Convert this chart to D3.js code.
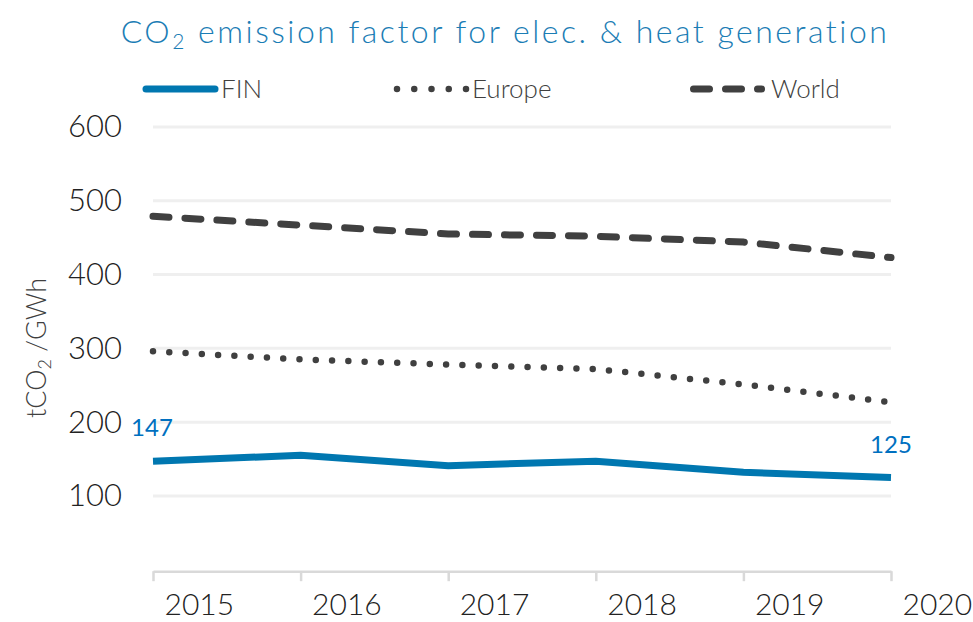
<!DOCTYPE html>
<html>
<head>
<meta charset="utf-8">
<script src="https://cdn.jsdelivr.net/npm/d3@7"></script>
<style>
  body { margin: 0; background: #fff; }
  text { font-family: Lato, "Noto Sans", sans-serif; }
</style>
</head>
<body>
<div class="container"></div>
<script>
const years = [2015, 2016, 2017, 2018, 2019, 2020];
const fin = [147, 155, 141, 147, 132, 125];
const europe = [296, 285, 278, 272, 251, 227];
const world = [479, 467, 455, 452, 444, 423];
const yTicks = [100, 200, 300, 400, 500, 600];

const width = 973;
const height = 622;
const margin = { top: 127, right: 82, bottom: 52, left: 153 };

let svg = d3.select(".container").append("svg")
  .attr("width", width).attr("height", height);

let xScale = d3.scalePoint(years, [margin.left, width - margin.right]);
let yScale = d3.scaleLinear([0, 600], [height - margin.bottom - 0.3, margin.top]);

// title
let title = svg.append("text")
  .attr("x", 505).attr("y", 43)
  .attr("text-anchor", "middle")
  .attr("fill", "#1b7db5")
  .attr("font-size", 32)
  .attr("font-weight", 300)
  .attr("letter-spacing", 2.5);
title.append("tspan").text("CO");
title.append("tspan").attr("font-size", 21).attr("dy", 6).text("2");
title.append("tspan").attr("dy", -6).text(" emission factor for elec. & heat generation");

// gridlines
svg.append("g").selectAll("line")
  .data(yTicks).enter().append("line")
  .attr("x1", margin.left).attr("x2", width - margin.right)
  .attr("y1", d => yScale(d)).attr("y2", d => yScale(d))
  .attr("stroke", "#efefef").attr("stroke-width", 3);

// y axis labels
let yAxis = d3.axisLeft(yScale).tickValues(yTicks).tickSize(0).tickPadding(0);
let gy = svg.append("g").attr("transform", "translate(122,0)").call(yAxis);
gy.select(".domain").remove();
gy.selectAll("text")
  .attr("font-family", "Lato, 'Noto Sans', sans-serif")
  .attr("font-size", 31).attr("font-weight", 300)
  .attr("fill", "#222");

// x axis
let xAxis = d3.axisBottom(xScale).tickSize(10).tickSizeOuter(0).tickFormat(d3.format("d"));
let gx = svg.append("g").attr("transform", `translate(0, ${yScale(0) + 1.5})`).call(xAxis);
gx.select(".domain").attr("stroke", "#d9d9d9").attr("stroke-width", 2.5);
gx.selectAll(".tick line").attr("stroke", "#d9d9d9").attr("stroke-width", 2.5);
gx.selectAll("text")
  .attr("font-family", "Lato, 'Noto Sans', sans-serif")
  .attr("font-size", 30).attr("font-weight", 300)
  .attr("fill", "#222")
  .attr("text-anchor", "start")
  .attr("dx", 11).attr("y", 23).attr("dy", "0.71em");

// y title
let yt = svg.append("text")
  .attr("transform", "translate(46, 348) rotate(-90)")
  .attr("text-anchor", "middle")
  .attr("fill", "#404040")
  .attr("font-size", 27).attr("font-weight", 300);
yt.append("tspan").text("tCO");
yt.append("tspan").attr("font-size", 18).attr("dy", 5).text("2");
yt.append("tspan").attr("dy", -5).text(" /GWh");

const line = d3.line().x((d, i) => xScale(years[i])).y(d => yScale(d));

svg.append("path").datum(world)
  .attr("d", line).attr("fill", "none")
  .attr("stroke", "#404040").attr("stroke-width", 7)
  .attr("stroke-linecap", "round")
  .attr("stroke-dasharray", "16 16");

svg.append("path").datum(europe)
  .attr("d", line).attr("fill", "none")
  .attr("stroke", "#404040").attr("stroke-width", 6.5)
  .attr("stroke-linecap", "round")
  .attr("stroke-dasharray", "0 16.3");

svg.append("path").datum(fin)
  .attr("d", line).attr("fill", "none")
  .attr("stroke", "#0077b0").attr("stroke-width", 7);

// data labels
svg.append("text")
  .attr("x", xScale(years[0]) - 1).attr("y", yScale(fin[0]) - 25)
  .attr("text-anchor", "middle")
  .attr("fill", "#0070c0").attr("font-size", 24)
  .text(fin[0]);
svg.append("text")
  .attr("x", xScale(years[5]) + 0).attr("y", yScale(fin[5]) - 24)
  .attr("text-anchor", "middle")
  .attr("fill", "#0070c0").attr("font-size", 24)
  .text(fin[5]);

// legend
const legend = [
  { name: "FIN", x: 146, len: 69, text: 221, color: "#0077b0", dash: null, w: 7 },
  { name: "Europe", x: 397, len: 69.5, text: 472, color: "#404040", dash: "0 17.25", w: 6.5 },
  { name: "World", x: 693.5, len: 68, text: 771, color: "#404040", dash: "16 16", w: 7 }
];
let lg = svg.append("g").selectAll("g").data(legend).enter().append("g");
lg.append("line")
  .attr("x1", d => d.x).attr("x2", d => d.x + d.len)
  .attr("y1", 89).attr("y2", 89)
  .attr("stroke", d => d.color).attr("stroke-width", d => d.w)
  .attr("stroke-linecap", "round")
  .attr("stroke-dasharray", d => d.dash);
lg.append("text")
  .attr("x", d => d.text).attr("y", 98)
  .attr("fill", "#404040").attr("font-size", 26).attr("font-weight", 300)
  .text(d => d.name);
</script>
</body>
</html>
